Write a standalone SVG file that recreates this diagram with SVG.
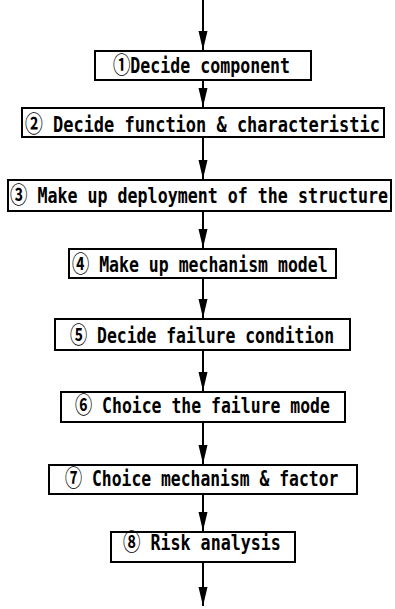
<svg xmlns="http://www.w3.org/2000/svg" width="395" height="609" viewBox="0 0 395 609">
  <style>
    .box { fill: #ffffff; stroke: #000000; stroke-width: 2; }
    .label { font-family: "DejaVu Sans Mono", "Noto Sans CJK JP", monospace; font-size: 22px; font-weight: bold; fill: #000000; }
    .num { font-family: "Noto Sans CJK JP", "DejaVu Sans", sans-serif; font-weight: bold; font-size: 23px; }
    .flow { stroke: #000000; stroke-width: 2; fill: none; marker-end: url(#arrowhead); }
  </style>
  <defs>
    <marker id="arrowhead" viewBox="0 0 19 10" markerWidth="19" markerHeight="10" refX="19" refY="5" orient="auto" markerUnits="userSpaceOnUse">
      <path d="M0,0.5 L19,5 L0,9.5 Z" fill="#000000"/>
    </marker>
  </defs>
  <rect width="395" height="609" fill="#ffffff"/>

  <!-- connectors between the steps -->
  <g id="connectors">
    <line class="flow" x1="203" y1="0" x2="203" y2="50"/>
    <line class="flow" x1="203" y1="81" x2="203" y2="107"/>
    <line class="flow" x1="203" y1="138" x2="203" y2="179"/>
    <line class="flow" x1="203" y1="212" x2="203" y2="248"/>
    <line class="flow" x1="203" y1="279" x2="203" y2="318"/>
    <line class="flow" x1="203" y1="351" x2="203" y2="391"/>
    <line class="flow" x1="203" y1="423" x2="203" y2="464"/>
    <line class="flow" x1="203" y1="495" x2="203" y2="531"/>
    <line class="flow" x1="203" y1="563" x2="203" y2="606"/>
  </g>

  <!-- labels use a horizontally condensed monospace face (scale 0.77) -->
  <g id="step1">
    <rect class="box" x="95" y="51" width="216" height="29"/>
    <text class="label" transform="translate(113,73) scale(0.77,1)" textLength="230" lengthAdjust="spacingAndGlyphs"><tspan class="num">①</tspan>Decide component</text>
  </g>
  <g id="step2">
    <rect class="box" x="22" y="108" width="362" height="29"/>
    <text class="label" transform="translate(25,131.5) scale(0.77,1)" textLength="461" lengthAdjust="spacingAndGlyphs"><tspan class="num">②</tspan> Decide function &amp; characteristic</text>
  </g>
  <g id="step3">
    <rect class="box" x="8" y="180" width="383" height="31"/>
    <text class="label" transform="translate(10,203) scale(0.77,1)" textLength="491" lengthAdjust="spacingAndGlyphs"><tspan class="num">③</tspan> Make up deployment of the structure</text>
  </g>
  <g id="step4">
    <rect class="box" x="69" y="249" width="267" height="29"/>
    <text class="label" transform="translate(72,271.5) scale(0.77,1)" textLength="332" lengthAdjust="spacingAndGlyphs"><tspan class="num">④</tspan> Make up mechanism model</text>
  </g>
  <g id="step5">
    <rect class="box" x="55" y="319" width="295" height="31"/>
    <text class="label" transform="translate(70,343) scale(0.77,1)" textLength="343" lengthAdjust="spacingAndGlyphs"><tspan class="num">⑤</tspan> Decide failure condition</text>
  </g>
  <g id="step6">
    <rect class="box" x="61" y="392" width="284" height="30"/>
    <text class="label" transform="translate(75,413) scale(0.77,1)" textLength="331" lengthAdjust="spacingAndGlyphs"><tspan class="num">⑥</tspan> Choice the failure mode</text>
  </g>
  <g id="step7">
    <rect class="box" x="49" y="465" width="308" height="29"/>
    <text class="label" transform="translate(65,485.5) scale(0.77,1)" textLength="355" lengthAdjust="spacingAndGlyphs"><tspan class="num">⑦</tspan> Choice mechanism &amp; factor</text>
  </g>
  <g id="step8">
    <rect class="box" x="111" y="532" width="184" height="30"/>
    <text class="label" transform="translate(123,550) scale(0.77,1)" textLength="205" lengthAdjust="spacingAndGlyphs"><tspan class="num">⑧</tspan> Risk analysis</text>
  </g>
</svg>
